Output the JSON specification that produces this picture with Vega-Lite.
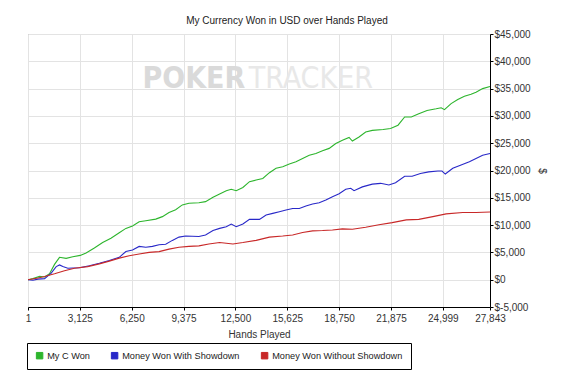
{
  "$schema": "https://vega.github.io/schema/vega-lite/v6.json",
  "autosize": "none",
  "width": 462,
  "height": 273,
  "padding": {"left": 28, "top": 34, "right": 73, "bottom": 81},
  "background": "white",
  "title": {"text": "My Currency Won in USD over Hands Played", "fontSize": 10, "font": "Liberation Sans", "fontWeight": "normal", "color": "#222", "offset": 3, "dx": 28},
  "config": {
    "font": "Liberation Sans",
    "view": {"stroke": "#999", "strokeWidth": 1},
    "axis": {"labelFont": "Liberation Sans", "titleFont": "Liberation Sans", "labelFontSize": 10, "titleFontSize": 10, "labelColor": "#333", "titleColor": "#333", "titleFontWeight": "normal", "domainColor": "#000", "tickColor": "#000", "grid": true, "gridColor": "#e3e3e3", "gridWidth": 1, "labelOverlap": false, "labelFlush": false, "tickSize": 3},
    "axisY": {"labelOverlap": false, "labelPadding": 1, "titlePadding": 6},
    "axisX": {"labelPadding": 3, "titlePadding": 6}
  },
  "datasets": {
    "series": [
      {"h": 1, "s": "My C Won", "v": 0},
      {"h": 300, "s": "My C Won", "v": 200},
      {"h": 700, "s": "My C Won", "v": 600},
      {"h": 1000, "s": "My C Won", "v": 500},
      {"h": 1300, "s": "My C Won", "v": 1100},
      {"h": 1600, "s": "My C Won", "v": 2800},
      {"h": 1900, "s": "My C Won", "v": 4100},
      {"h": 2300, "s": "My C Won", "v": 3900},
      {"h": 2700, "s": "My C Won", "v": 4200},
      {"h": 3150, "s": "My C Won", "v": 4450},
      {"h": 3500, "s": "My C Won", "v": 4900},
      {"h": 4000, "s": "My C Won", "v": 5800},
      {"h": 4500, "s": "My C Won", "v": 6800},
      {"h": 5000, "s": "My C Won", "v": 7600},
      {"h": 5500, "s": "My C Won", "v": 8600},
      {"h": 5900, "s": "My C Won", "v": 9400},
      {"h": 6300, "s": "My C Won", "v": 9850},
      {"h": 6700, "s": "My C Won", "v": 10600},
      {"h": 7100, "s": "My C Won", "v": 10800},
      {"h": 7700, "s": "My C Won", "v": 11100},
      {"h": 8100, "s": "My C Won", "v": 11550},
      {"h": 8500, "s": "My C Won", "v": 12300},
      {"h": 8900, "s": "My C Won", "v": 12800},
      {"h": 9300, "s": "My C Won", "v": 13700},
      {"h": 9700, "s": "My C Won", "v": 14000},
      {"h": 10300, "s": "My C Won", "v": 14100},
      {"h": 10700, "s": "My C Won", "v": 14300},
      {"h": 11150, "s": "My C Won", "v": 15100},
      {"h": 11550, "s": "My C Won", "v": 15700},
      {"h": 11950, "s": "My C Won", "v": 16300},
      {"h": 12250, "s": "My C Won", "v": 16550},
      {"h": 12550, "s": "My C Won", "v": 16300},
      {"h": 12950, "s": "My C Won", "v": 16900},
      {"h": 13350, "s": "My C Won", "v": 17950},
      {"h": 13750, "s": "My C Won", "v": 18250},
      {"h": 14150, "s": "My C Won", "v": 18550},
      {"h": 14550, "s": "My C Won", "v": 19600},
      {"h": 14950, "s": "My C Won", "v": 20400},
      {"h": 15350, "s": "My C Won", "v": 20700},
      {"h": 15750, "s": "My C Won", "v": 21200},
      {"h": 16150, "s": "My C Won", "v": 21600},
      {"h": 16550, "s": "My C Won", "v": 22200},
      {"h": 16950, "s": "My C Won", "v": 22800},
      {"h": 17350, "s": "My C Won", "v": 23100},
      {"h": 17750, "s": "My C Won", "v": 23600},
      {"h": 18150, "s": "My C Won", "v": 24050},
      {"h": 18550, "s": "My C Won", "v": 24950},
      {"h": 18950, "s": "My C Won", "v": 25550},
      {"h": 19350, "s": "My C Won", "v": 26050},
      {"h": 19550, "s": "My C Won", "v": 25400},
      {"h": 19950, "s": "My C Won", "v": 26150},
      {"h": 20350, "s": "My C Won", "v": 27050},
      {"h": 20750, "s": "My C Won", "v": 27350},
      {"h": 21400, "s": "My C Won", "v": 27500},
      {"h": 21850, "s": "My C Won", "v": 27700},
      {"h": 22300, "s": "My C Won", "v": 28300},
      {"h": 22700, "s": "My C Won", "v": 29800},
      {"h": 23100, "s": "My C Won", "v": 29800},
      {"h": 23550, "s": "My C Won", "v": 30400},
      {"h": 24050, "s": "My C Won", "v": 31000},
      {"h": 24600, "s": "My C Won", "v": 31300},
      {"h": 24900, "s": "My C Won", "v": 31500},
      {"h": 25100, "s": "My C Won", "v": 31150},
      {"h": 25500, "s": "My C Won", "v": 32250},
      {"h": 25900, "s": "My C Won", "v": 33000},
      {"h": 26300, "s": "My C Won", "v": 33600},
      {"h": 26700, "s": "My C Won", "v": 33950},
      {"h": 27000, "s": "My C Won", "v": 34350},
      {"h": 27400, "s": "My C Won", "v": 35000},
      {"h": 27843, "s": "My C Won", "v": 35400},
      {"h": 1, "s": "Money Won With Showdown", "v": 0},
      {"h": 300, "s": "Money Won With Showdown", "v": -100},
      {"h": 600, "s": "Money Won With Showdown", "v": 100},
      {"h": 1000, "s": "Money Won With Showdown", "v": 200},
      {"h": 1400, "s": "Money Won With Showdown", "v": 1200},
      {"h": 1700, "s": "Money Won With Showdown", "v": 2400},
      {"h": 1900, "s": "Money Won With Showdown", "v": 2700},
      {"h": 2100, "s": "Money Won With Showdown", "v": 2400},
      {"h": 2400, "s": "Money Won With Showdown", "v": 2100},
      {"h": 2700, "s": "Money Won With Showdown", "v": 2150},
      {"h": 3100, "s": "Money Won With Showdown", "v": 2200},
      {"h": 3700, "s": "Money Won With Showdown", "v": 2550},
      {"h": 4300, "s": "Money Won With Showdown", "v": 3000},
      {"h": 4900, "s": "Money Won With Showdown", "v": 3500},
      {"h": 5500, "s": "Money Won With Showdown", "v": 4100},
      {"h": 5900, "s": "Money Won With Showdown", "v": 5150},
      {"h": 6300, "s": "Money Won With Showdown", "v": 5450},
      {"h": 6700, "s": "Money Won With Showdown", "v": 6100},
      {"h": 7100, "s": "Money Won With Showdown", "v": 5950},
      {"h": 7500, "s": "Money Won With Showdown", "v": 6100},
      {"h": 7900, "s": "Money Won With Showdown", "v": 6400},
      {"h": 8300, "s": "Money Won With Showdown", "v": 6500},
      {"h": 8700, "s": "Money Won With Showdown", "v": 7200},
      {"h": 9100, "s": "Money Won With Showdown", "v": 7800},
      {"h": 9500, "s": "Money Won With Showdown", "v": 8000},
      {"h": 10300, "s": "Money Won With Showdown", "v": 7900},
      {"h": 10700, "s": "Money Won With Showdown", "v": 8200},
      {"h": 11150, "s": "Money Won With Showdown", "v": 9000},
      {"h": 11550, "s": "Money Won With Showdown", "v": 9400},
      {"h": 11950, "s": "Money Won With Showdown", "v": 9700},
      {"h": 12250, "s": "Money Won With Showdown", "v": 10200},
      {"h": 12550, "s": "Money Won With Showdown", "v": 9700},
      {"h": 12950, "s": "Money Won With Showdown", "v": 10200},
      {"h": 13350, "s": "Money Won With Showdown", "v": 11050},
      {"h": 13950, "s": "Money Won With Showdown", "v": 11050},
      {"h": 14350, "s": "Money Won With Showdown", "v": 11850},
      {"h": 14750, "s": "Money Won With Showdown", "v": 12150},
      {"h": 15150, "s": "Money Won With Showdown", "v": 12450},
      {"h": 15550, "s": "Money Won With Showdown", "v": 12750},
      {"h": 15950, "s": "Money Won With Showdown", "v": 13050},
      {"h": 16350, "s": "Money Won With Showdown", "v": 13050},
      {"h": 16750, "s": "Money Won With Showdown", "v": 13500},
      {"h": 17150, "s": "Money Won With Showdown", "v": 13850},
      {"h": 17550, "s": "Money Won With Showdown", "v": 14100},
      {"h": 17950, "s": "Money Won With Showdown", "v": 14600},
      {"h": 18350, "s": "Money Won With Showdown", "v": 15200},
      {"h": 18750, "s": "Money Won With Showdown", "v": 15750},
      {"h": 19150, "s": "Money Won With Showdown", "v": 16550},
      {"h": 19450, "s": "Money Won With Showdown", "v": 16750},
      {"h": 19650, "s": "Money Won With Showdown", "v": 16300},
      {"h": 20150, "s": "Money Won With Showdown", "v": 17000},
      {"h": 20750, "s": "Money Won With Showdown", "v": 17500},
      {"h": 21250, "s": "Money Won With Showdown", "v": 17650},
      {"h": 21750, "s": "Money Won With Showdown", "v": 17350},
      {"h": 22150, "s": "Money Won With Showdown", "v": 17750},
      {"h": 22700, "s": "Money Won With Showdown", "v": 18950},
      {"h": 23150, "s": "Money Won With Showdown", "v": 18950},
      {"h": 23650, "s": "Money Won With Showdown", "v": 19450},
      {"h": 24150, "s": "Money Won With Showdown", "v": 19750},
      {"h": 24700, "s": "Money Won With Showdown", "v": 19900},
      {"h": 24950, "s": "Money Won With Showdown", "v": 19900},
      {"h": 25150, "s": "Money Won With Showdown", "v": 19350},
      {"h": 25600, "s": "Money Won With Showdown", "v": 20400},
      {"h": 26100, "s": "Money Won With Showdown", "v": 21000},
      {"h": 26600, "s": "Money Won With Showdown", "v": 21600},
      {"h": 27000, "s": "Money Won With Showdown", "v": 22200},
      {"h": 27400, "s": "Money Won With Showdown", "v": 22800},
      {"h": 27843, "s": "Money Won With Showdown", "v": 23100},
      {"h": 1, "s": "Money Won Without Showdown", "v": 0},
      {"h": 600, "s": "Money Won Without Showdown", "v": 300},
      {"h": 1000, "s": "Money Won Without Showdown", "v": 600},
      {"h": 1600, "s": "Money Won Without Showdown", "v": 1100},
      {"h": 2200, "s": "Money Won Without Showdown", "v": 1650},
      {"h": 2800, "s": "Money Won Without Showdown", "v": 2100},
      {"h": 3600, "s": "Money Won Without Showdown", "v": 2400},
      {"h": 4300, "s": "Money Won Without Showdown", "v": 2900},
      {"h": 4900, "s": "Money Won Without Showdown", "v": 3400},
      {"h": 5500, "s": "Money Won Without Showdown", "v": 3950},
      {"h": 6100, "s": "Money Won Without Showdown", "v": 4400},
      {"h": 6700, "s": "Money Won Without Showdown", "v": 4700},
      {"h": 7300, "s": "Money Won Without Showdown", "v": 5000},
      {"h": 7900, "s": "Money Won Without Showdown", "v": 5150},
      {"h": 8500, "s": "Money Won Without Showdown", "v": 5600},
      {"h": 9100, "s": "Money Won Without Showdown", "v": 5950},
      {"h": 9700, "s": "Money Won Without Showdown", "v": 6100},
      {"h": 10300, "s": "Money Won Without Showdown", "v": 6200},
      {"h": 10900, "s": "Money Won Without Showdown", "v": 6550},
      {"h": 11550, "s": "Money Won Without Showdown", "v": 6800},
      {"h": 12350, "s": "Money Won Without Showdown", "v": 6550},
      {"h": 12950, "s": "Money Won Without Showdown", "v": 6800},
      {"h": 13750, "s": "Money Won Without Showdown", "v": 7200},
      {"h": 14550, "s": "Money Won Without Showdown", "v": 7800},
      {"h": 15350, "s": "Money Won Without Showdown", "v": 8000},
      {"h": 15950, "s": "Money Won Without Showdown", "v": 8200},
      {"h": 16550, "s": "Money Won Without Showdown", "v": 8650},
      {"h": 17150, "s": "Money Won Without Showdown", "v": 8950},
      {"h": 17750, "s": "Money Won Without Showdown", "v": 9000},
      {"h": 18350, "s": "Money Won Without Showdown", "v": 9100},
      {"h": 18950, "s": "Money Won Without Showdown", "v": 9300},
      {"h": 19550, "s": "Money Won Without Showdown", "v": 9250},
      {"h": 20350, "s": "Money Won Without Showdown", "v": 9600},
      {"h": 21150, "s": "Money Won Without Showdown", "v": 10050},
      {"h": 21950, "s": "Money Won Without Showdown", "v": 10450},
      {"h": 22800, "s": "Money Won Without Showdown", "v": 10950},
      {"h": 23550, "s": "Money Won Without Showdown", "v": 11050},
      {"h": 24400, "s": "Money Won Without Showdown", "v": 11550},
      {"h": 25200, "s": "Money Won Without Showdown", "v": 12050},
      {"h": 26200, "s": "Money Won Without Showdown", "v": 12300},
      {"h": 27000, "s": "Money Won Without Showdown", "v": 12300},
      {"h": 27843, "s": "Money Won Without Showdown", "v": 12400}
    ]
  },
  "layer": [
    {
      "data": {"name": "series"},
      "mark": {"type": "line", "strokeWidth": 1.1},
      "encoding": {
        "x": {"field": "h", "type": "quantitative", "title": "Hands Played",
          "scale": {"domain": [1, 27843], "nice": false, "zero": false},
          "axis": {"values": [1, 3125, 6250, 9375, 12500, 15625, 18750, 21875, 24999, 27843], "format": ",d", "grid": true, "labelOverlap": false}},
        "y": {"field": "v", "type": "quantitative", "title": "$",
          "scale": {"domain": [-5000, 45000], "nice": false},
          "axis": {"orient": "right", "grid": true, "values": [-5000, 0, 5000, 10000, 15000, 20000, 25000, 30000, 35000, 40000, 45000], "labelExpr": "datum.value < 0 ? '$-' + format(-datum.value, ',d') : '$' + format(datum.value, ',d')", "labelOverlap": false}},
        "color": {"field": "s", "type": "nominal",
          "scale": {"domain": ["My C Won", "Money Won With Showdown", "Money Won Without Showdown"], "range": ["#2db52d", "#2828c8", "#c82828"]},
          "legend": {"title": null, "orient": "none", "legendX": -1, "legendY": 309, "direction": "horizontal", "symbolType": "square", "symbolSize": 42, "symbolOpacity": 1, "labelFontSize": 9.2, "labelColor": "#222", "labelFont": "Liberation Sans", "labelOffset": 3, "columnPadding": 19, "padding": 8, "strokeColor": "#000", "fillColor": "white",
            "encode": {"symbols": {"update": {"fill": {"field": "value", "scale": "color"}, "stroke": {"value": "#333"}, "strokeWidth": {"value": 1}}}}}}
      }
    },
    {
      "data": {"values": [{"t": "POKER"}]},
      "mark": {"type": "text", "font": "DejaVu Sans Condensed, Roboto, sans-serif", "fontWeight": "bold", "fontSize": 30, "color": "#dadada", "align": "right", "baseline": "middle"},
      "encoding": {
        "x": {"datum": 13100, "type": "quantitative", "title": "Hands Played", "axis": {"values": [1, 3125, 6250, 9375, 12500, 15625, 18750, 21875, 24999, 27843], "format": ",d", "grid": true, "labelOverlap": false}},
        "y": {"datum": 36700, "type": "quantitative", "title": "$", "axis": {"orient": "right", "grid": true, "values": [-5000, 0, 5000, 10000, 15000, 20000, 25000, 30000, 35000, 40000, 45000], "labelExpr": "datum.value < 0 ? '$-' + format(-datum.value, ',d') : '$' + format(datum.value, ',d')", "labelOverlap": false}},
        "text": {"field": "t"}}
    },
    {
      "data": {"values": [{"t": "TRACKER"}]},
      "mark": {"type": "text", "font": "DejaVu Sans Condensed, Roboto, sans-serif", "fontWeight": "normal", "fontSize": 30, "color": "#e8e8e8", "align": "left", "baseline": "middle"},
      "encoding": {
        "x": {"datum": 13300, "type": "quantitative", "title": "Hands Played", "axis": {"values": [1, 3125, 6250, 9375, 12500, 15625, 18750, 21875, 24999, 27843], "format": ",d", "grid": true, "labelOverlap": false}},
        "y": {"datum": 36700, "type": "quantitative", "title": "$", "axis": {"orient": "right", "grid": true, "values": [-5000, 0, 5000, 10000, 15000, 20000, 25000, 30000, 35000, 40000, 45000], "labelExpr": "datum.value < 0 ? '$-' + format(-datum.value, ',d') : '$' + format(datum.value, ',d')", "labelOverlap": false}},
        "text": {"field": "t"}}
    },
    {
      "mark": {"type": "rule", "color": "#000", "strokeWidth": 1.5},
      "encoding": {"y": {"datum": 0, "type": "quantitative", "title": "$", "axis": {"orient": "right", "grid": true, "values": [-5000, 0, 5000, 10000, 15000, 20000, 25000, 30000, 35000, 40000, 45000], "labelExpr": "datum.value < 0 ? '$-' + format(-datum.value, ',d') : '$' + format(datum.value, ',d')", "labelOverlap": false}}}
    },
    {
      "mark": {"type": "rule", "color": "#000", "strokeWidth": 1.5},
      "encoding": {"y": {"datum": 45000, "type": "quantitative", "title": "$", "axis": {"orient": "right", "grid": true, "values": [-5000, 0, 5000, 10000, 15000, 20000, 25000, 30000, 35000, 40000, 45000], "labelExpr": "datum.value < 0 ? '$-' + format(-datum.value, ',d') : '$' + format(datum.value, ',d')", "labelOverlap": false}}}
    }
  ]
}
